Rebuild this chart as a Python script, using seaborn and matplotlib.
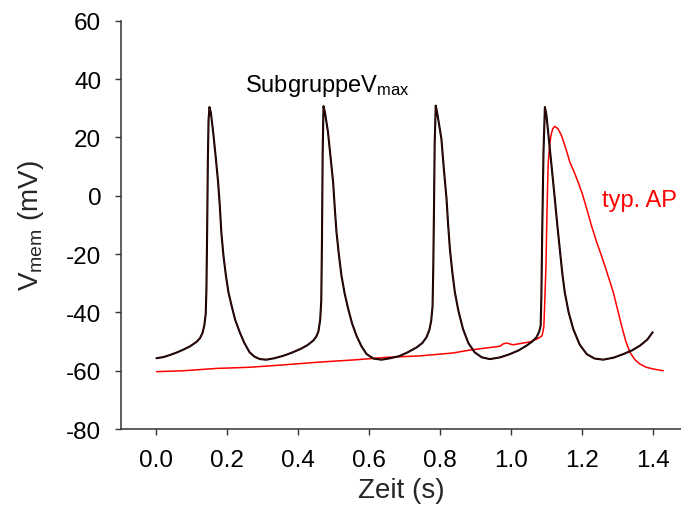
import matplotlib
matplotlib.use("Agg")
import matplotlib.pyplot as plt
import seaborn as sns
import pandas as pd

# Black trace (SubgruppeV_max): time (s), membrane voltage (mV)
black_t = [0.000, 0.020, 0.038, 0.056, 0.075, 0.095, 0.113, 0.123, 0.130, 0.135,
           0.139, 0.141, 0.143, 0.145, 0.147, 0.1496, 0.1535, 0.160, 0.167, 0.174,
           0.179, 0.183, 0.189, 0.196, 0.203, 0.212, 0.222, 0.235, 0.248, 0.263,
           0.277, 0.292, 0.310, 0.333, 0.357, 0.380, 0.405, 0.425, 0.442, 0.451,
           0.457, 0.462, 0.465, 0.467, 0.469, 0.4713,
           0.4753, 0.484, 0.491, 0.4985, 0.503, 0.508, 0.515, 0.522, 0.531, 0.541,
           0.552, 0.5645, 0.578, 0.593, 0.612, 0.635, 0.660, 0.687, 0.710, 0.734,
           0.750, 0.762, 0.770, 0.775, 0.779, 0.781, 0.783, 0.785, 0.788,
           0.792, 0.798, 0.804, 0.811, 0.8185, 0.823, 0.828, 0.835, 0.842, 0.852,
           0.865, 0.880, 0.898, 0.918, 0.941, 0.970, 0.997, 1.022, 1.044, 1.060,
           1.0725, 1.080, 1.084, 1.086, 1.0884, 1.092, 1.096,
           1.100, 1.105, 1.110, 1.117, 1.124, 1.131, 1.138, 1.145, 1.152, 1.163,
           1.176, 1.194, 1.214, 1.236, 1.2605, 1.290, 1.317, 1.342, 1.364, 1.385,
           1.400]
black_v = [-55.7, -55.3, -54.6, -53.8, -52.8, -51.6, -50.1, -48.8, -47.0, -44.5,
           -40.5, -32.0, -12.4, 12.0, 26.0, 30.4, 28.5, 21.8, 13.5, 4.6,
           -4.0, -12.5, -20.5, -27.4, -33.0, -37.7, -42.5, -46.8, -50.5, -53.7,
           -55.2, -56.0, -56.2, -55.7, -54.9, -53.9, -52.6, -51.3, -49.7, -48.3,
           -46.5, -42.5, -36.0, -15.0, 15.0, 30.7,
           28.7, 21.8, 13.5, 4.6, -4.0, -12.5, -20.5, -27.4, -33.5, -38.8,
           -43.8, -48.0, -51.5, -54.3, -55.8, -56.2, -55.7, -54.9, -53.6, -52.0,
           -50.5, -48.5, -46.0, -43.0, -38.0, -25.0, -5.0, 18.0, 30.9,
           28.5, 24.0, 19.5, 9.0, -1.1, -10.0, -18.3, -26.5, -33.1, -39.5,
           -45.7, -50.5, -53.7, -55.4, -56.0, -55.4, -54.3, -53.0, -51.4, -50.0,
           -48.5, -46.5, -44.6, -35.0, -12.5, 15.0, 30.4,
           28.0, 22.0, 16.0, 7.5, -1.1, -10.0, -18.3, -26.5, -33.1, -40.0,
           -45.7, -51.0, -54.3, -55.8, -56.2, -55.5, -54.3, -53.0, -51.4, -49.3,
           -46.8]

# Red trace (typ. AP)
red_t = [0.000, 0.075, 0.169, 0.263, 0.357, 0.452, 0.489, 0.555, 0.649, 0.743,
         0.837, 0.884, 0.969, 0.978, 0.988, 1.006, 1.054, 1.077, 1.088, 1.093,
         1.096, 1.099, 1.102, 1.105, 1.109, 1.113, 1.118, 1.124, 1.133, 1.143,
         1.155, 1.1665, 1.178, 1.190, 1.202, 1.214, 1.228, 1.242, 1.254, 1.265,
         1.277, 1.289, 1.300, 1.3125, 1.324, 1.336, 1.350, 1.364, 1.382, 1.402,
         1.430]
red_v = [-60.3, -60.0, -59.2, -58.8, -58.0, -57.1, -56.8, -56.3, -55.4, -54.9,
         -53.9, -52.9, -51.6, -50.8, -50.5, -51.1, -50.1, -48.9, -48.0, -45.0,
         -35.0, -24.0, -5.0, 10.3, 17.0, 20.6, 23.0, 23.8, 23.0, 20.6,
         16.2, 11.5, 8.3, 4.6, 0.5, -4.5, -10.5, -15.9, -20.0, -24.0,
         -28.5, -33.1, -38.5, -44.6, -49.8, -53.7, -56.2, -57.7, -58.8, -59.4,
         -60.0]

x_ticks = [0.0, 0.2, 0.4, 0.6, 0.8, 1.0, 1.2, 1.4]
y_ticks = [-80, -60, -40, -20, 0, 20, 40, 60]

sns.set_style("ticks")
plt.rcParams["font.family"] = ["Liberation Sans", "DejaVu Sans"]
plt.rcParams["mathtext.fontset"] = "custom"
plt.rcParams["mathtext.rm"] = "Liberation Sans"
plt.rcParams["mathtext.default"] = "regular"

fig = plt.figure(figsize=(6.81, 5.06), dpi=100)
ax = fig.add_axes([0.1777, 0.150, 0.8223, 0.807])

df_b = pd.DataFrame({"t": black_t, "v": black_v})
df_r = pd.DataFrame({"t": red_t, "v": red_v})

sns.lineplot(data=df_r, x="t", y="v", ax=ax, color="#ff0000", lw=1.1,
             sort=False, estimator=None)
sns.lineplot(data=df_b, x="t", y="v", ax=ax, color="#000000", lw=1.5,
             sort=False, estimator=None)
sns.lineplot(data=df_b, x="t", y="v", ax=ax, color="#5a0a0a", lw=0.5,
             sort=False, estimator=None)

ax.set_xlim(-0.1, 1.48)
ax.set_ylim(-80, 60)
ax.set_xticks(x_ticks)
ax.set_xticklabels([f"{v:.1f}" for v in x_ticks])
ax.set_yticks(y_ticks)
ax.set_yticklabels([str(v) for v in y_ticks])

for s in ["top", "right"]:
    ax.spines[s].set_visible(False)
for s in ["left", "bottom"]:
    ax.spines[s].set_color("#333333")
    ax.spines[s].set_linewidth(1.1)
    ax.spines[s].set_clip_on(False)

ax.tick_params(axis="both", direction="out", length=4.3, width=1.0,
               color="#333333", labelsize=17.5, labelcolor="black", pad=10)

ax.set_xlabel("Zeit (s)", fontsize=20, labelpad=4)
ax.set_ylabel(r"V$_{mem}$ (mV)", fontsize=20, labelpad=14)

ax.text(0.249, 36.0, r"SubgruppeV$_{max}$", fontsize=17, color="black",
        ha="left", va="baseline")
ax.text(1.256, -3.6, "typ. AP", fontsize=17, color="#ff0000",
        ha="left", va="baseline", clip_on=False)

fig.savefig("out.png", dpi=100)
